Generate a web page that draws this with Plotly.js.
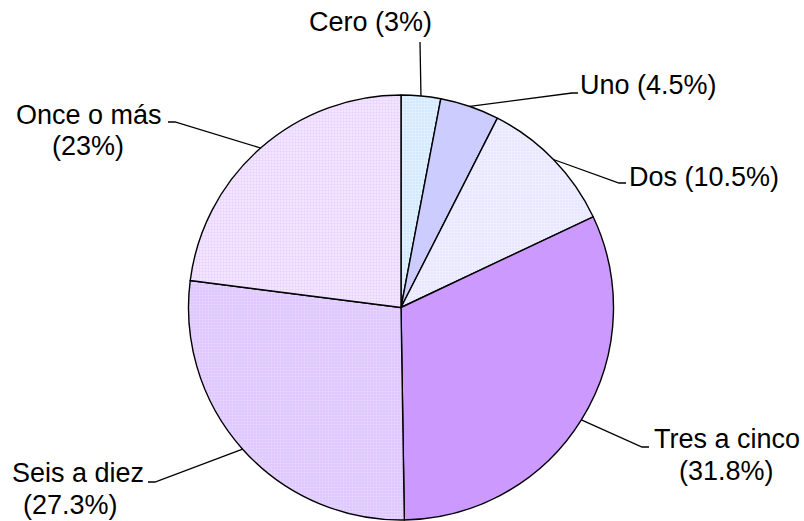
<!DOCTYPE html>
<html>
<head>
<meta charset="utf-8">
<script src="https://cdn.plot.ly/plotly-3.0.1.min.js"></script>
<style>
  html, body { margin: 0; padding: 0; background: #fff; }
  #plot { width: 804px; height: 521px; }
</style>
</head>
<body>
<div id="plot"></div>
<script>
// categories and shares (%)
var categories = ["Cero", "Uno", "Dos", "Tres a cinco", "Seis a diez", "Once o más"];
var values = [3, 4.5, 10.5, 31.8, 27.3, 23];
var labelLine1 = ["Cero (3%)", "Uno (4.5%)", "Dos (10.5%)", "Tres a cinco", "Seis a diez", "Once o más"];
var labelLine2 = ["", "", "", "(31.8%)", "(27.3%)", "(23%)"];

var sliceColors = ["#cce6ff", "#ccccff", "#e4e4ff", "#cc99ff", "#dcc4ff", "#f6eaff"];
var dotColors = ["#ffffff", "#ccccff", "#ffffff", "#cc99ff", "#f2e8ff", "#dcbcff"];
var dotShapes = [".", "", ".", "", ".", "."];

var W = 804, H = 521;
var cx = 401, cy = 307.5, R = 212.5;

// leader line elbows + label placement (pixels)
var leaders = [
  {elbow: [420, 42], end: [420, 42], tx: 370, ty: 22, anchor: "center"},
  {elbow: [572, 93], end: [578, 93], tx: 578, ty: 85, anchor: "left"},
  {elbow: [619, 183], end: [626, 183], tx: 627, ty: 177, anchor: "left"},
  {elbow: [642, 447], end: [649, 447], tx: 652, ty: 439, anchor: "left", tx2: 726, ty2: 471},
  {elbow: [155, 482], end: [148, 482], tx: 146, ty: 473, anchor: "right", tx2: 70, ty2: 505},
  {elbow: [175, 122], end: [168, 122], tx: 164, ty: 115, anchor: "right", tx2: 88, ty2: 146}
];

function px(x) { return x / W; }
function py(y) { return 1 - y / H; }

var font = {family: "Liberation Sans, Arial, sans-serif", size: 27, color: "#000"};
var total = values.reduce(function(a, b) { return a + b; }, 0);
var shapes = [], annotations = [];
var cum = 0;
values.forEach(function(v, i) {
  var mid = (cum + v / 2) / total * 2 * Math.PI;
  cum += v;
  var ex = cx + R * Math.sin(mid), ey = cy - R * Math.cos(mid);
  var L = leaders[i];
  shapes.push({
    type: "path", xref: "paper", yref: "paper",
    path: "M" + px(ex) + "," + py(ey) + " L" + px(L.elbow[0]) + "," + py(L.elbow[1]) +
          " L" + px(L.end[0]) + "," + py(L.end[1]),
    line: {color: "#000", width: 1.3}
  });
  annotations.push({
    xref: "paper", yref: "paper",
    x: px(L.tx), y: py(L.ty),
    xanchor: L.anchor, yanchor: "middle",
    showarrow: false, text: labelLine1[i], font: font
  });
  if (labelLine2[i]) {
    annotations.push({
      xref: "paper", yref: "paper",
      x: px(L.tx2), y: py(L.ty2),
      xanchor: "center", yanchor: "middle",
      showarrow: false, text: labelLine2[i], font: font
    });
  }
});

var trace = {
  type: "pie",
  labels: categories,
  values: values,
  sort: false,
  direction: "clockwise",
  rotation: 0,
  textinfo: "none",
  hoverinfo: "label+percent",
  showlegend: false,
  domain: {x: [px(cx - R), px(cx + R)], y: [py(cy + R), py(cy - R)]},
  marker: {
    colors: sliceColors,
    line: {color: "#000", width: 1.4},
    pattern: {shape: dotShapes, fgcolor: dotColors, fillmode: "overlay", size: 3, solidity: 0.5}
  }
};

var layout = {
  width: W, height: H,
  margin: {l: 0, r: 0, t: 0, b: 0},
  paper_bgcolor: "#fff",
  shapes: shapes,
  annotations: annotations
};

Plotly.newPlot("plot", [trace], layout, {displayModeBar: false, staticPlot: true});
</script>
</body>
</html>
